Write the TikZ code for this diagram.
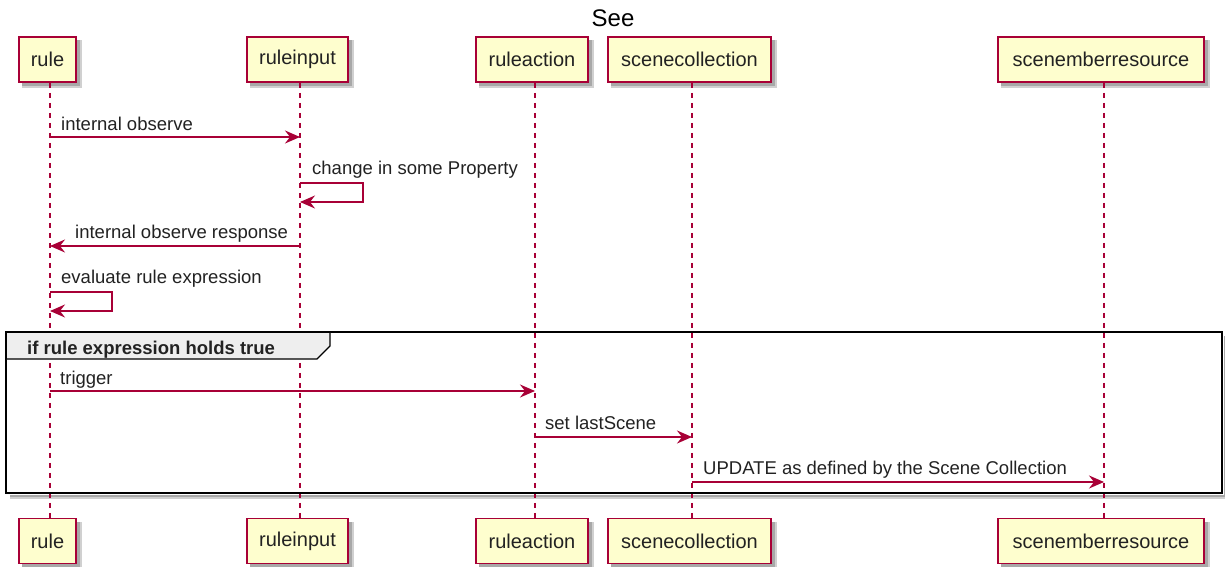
\documentclass[tikz,border=0pt]{standalone}
\usepackage{fontspec}
\setmainfont{Liberation Sans}
\usetikzlibrary{arrows.meta}
\definecolor{pline}{HTML}{A80036}
\definecolor{pfill}{HTML}{FEFECE}
\definecolor{tabfill}{HTML}{EEEEEE}
\definecolor{txt}{HTML}{222222}
\definecolor{shadeA}{HTML}{D0D0D0}
\definecolor{shadeB}{HTML}{A8A8A8}
\begin{document}
\begin{tikzpicture}[x=1pt,y=-1pt,
  part/.style={draw=pline, fill=pfill, line width=1.6pt, minimum height=45pt, inner sep=0pt,
    font=\fontsize{20}{24}\selectfont, text=txt},
  lifeline/.style={draw=pline, line width=1.1pt, dash pattern=on 5pt off 5pt},
  msg/.style={draw=pline, line width=1.4pt, -{Stealth[length=15pt,width=13pt,inset=5pt]}},
  lbl/.style={anchor=base west, inner sep=0pt, font=\fontsize{18.5}{22}\selectfont, text=txt},
]
\useasboundingbox (0,0) rectangle (1225,567);
\fill[white] (0,0) rectangle (1225,567);

% title
\node[anchor=base, inner sep=0pt, font=\fontsize{24}{28}\selectfont] (title) at (613,27) {See};

% participant shadows (plain shapes, beneath the boxes)
\foreach \xa/\xb in {19/76, 247/348, 476/588, 608/771, 998/1204}{
  \fill[shadeA] (\xa+3,40) rectangle (\xb+6,88);
  \fill[shadeB] (\xa+3,40) rectangle (\xb+4,86);
  \fill[shadeA] (\xa+3,522) rectangle (\xb+6,567);
  \fill[shadeB] (\xa+3,522) rectangle (\xb+4,566.5);
}

% frame shadow
\draw[shadeA, line width=4pt] (10,497) -- (1226,497) -- (1226,336);
\draw[shadeB, line width=2pt] (10,496) -- (1225,496) -- (1225,336);

% participants top
\node[part, minimum width=57pt]  (rT)  at (47.5,59.5) {rule};
\node[part, minimum width=101pt] (riT) at (297.5,59.5) {ruleinput};
\node[part, minimum width=112pt] (raT) at (532,59.5) {ruleaction};
\node[part, minimum width=163pt] (scT) at (689.5,59.5) {scenecollection};
\node[part, minimum width=206pt] (smT) at (1101,59.5) {scenemberresource};
% participants bottom
\node[part, minimum width=57pt]  (rB)  at (47.5,541) {rule};
\node[part, minimum width=101pt] (riB) at (297.5,541) {ruleinput};
\node[part, minimum width=112pt] (raB) at (532,541) {ruleaction};
\node[part, minimum width=163pt] (scB) at (689.5,541) {scenecollection};
\node[part, minimum width=206pt] (smB) at (1101,541) {scenemberresource};

% lifelines
\draw[lifeline] ([xshift=2.5pt]rT.south) -- ([xshift=2.5pt]rB.north);
\draw[lifeline] ([xshift=2.5pt]riT.south) -- ([xshift=2.5pt]riB.north);
\draw[lifeline] ([xshift=3pt]raT.south) -- ([xshift=3pt]raB.north);
\draw[lifeline] ([xshift=2.5pt]scT.south) -- ([xshift=2.5pt]scB.north);
\draw[lifeline] ([xshift=3pt]smT.south) -- ([xshift=3pt]smB.north);

% frame border over lifelines, and tab
\draw[black, line width=2.6pt] (6,332) rectangle (1222,493);
\draw[black, line width=1.3pt, fill=tabfill] (6,332) -- (330,332) -- (330,346) -- (317,359) -- (6,359) -- cycle;
\draw[black, line width=2.6pt] (6,359) -- (6,332) -- (330,332);
\node[anchor=base west, inner sep=0pt, font=\bfseries\fontsize{18.5}{22}\selectfont, text=txt] (ftitle) at (27,354) {if rule expression holds true};

% message coordinates
\coordinate (m1a) at (50,137);  \coordinate (m1b) at (300,137);
\coordinate (m2a) at (300,183); \coordinate (m2b) at (300,202);
\coordinate (m3a) at (300,246); \coordinate (m3b) at (50,246);
\coordinate (m4a) at (50,292);  \coordinate (m4b) at (50,311);
\coordinate (m5a) at (50,391);  \coordinate (m5b) at (535,391);
\coordinate (m6a) at (535,437); \coordinate (m6b) at (692,437);
\coordinate (m7a) at (692,482); \coordinate (m7b) at (1104,482);

\draw[msg] (m1a) -- (m1b);
\node[lbl] (l1) at (61,130) {internal observe};
\draw[msg] (m2a) -- ++(63,0) -- ++(0,19) -- (m2b);
\node[lbl] (l2) at (312,174) {change in some Property};
\draw[msg] (m3a) -- (m3b);
\node[lbl] (l3) at (75,238) {internal observe response};
\draw[msg] (m4a) -- ++(62,0) -- ++(0,19) -- (m4b);
\node[lbl] (l4) at (61,283) {evaluate rule expression};
\draw[msg] (m5a) -- (m5b);
\node[lbl] (l5) at (60,384) {trigger};
\draw[msg] (m6a) -- (m6b);
\node[lbl] (l6) at (545,429) {set lastScene};
\draw[msg] (m7a) -- (m7b);
\node[lbl] (l7) at (703,474) {UPDATE as defined by the Scene Collection};
\end{tikzpicture}
\end{document}
